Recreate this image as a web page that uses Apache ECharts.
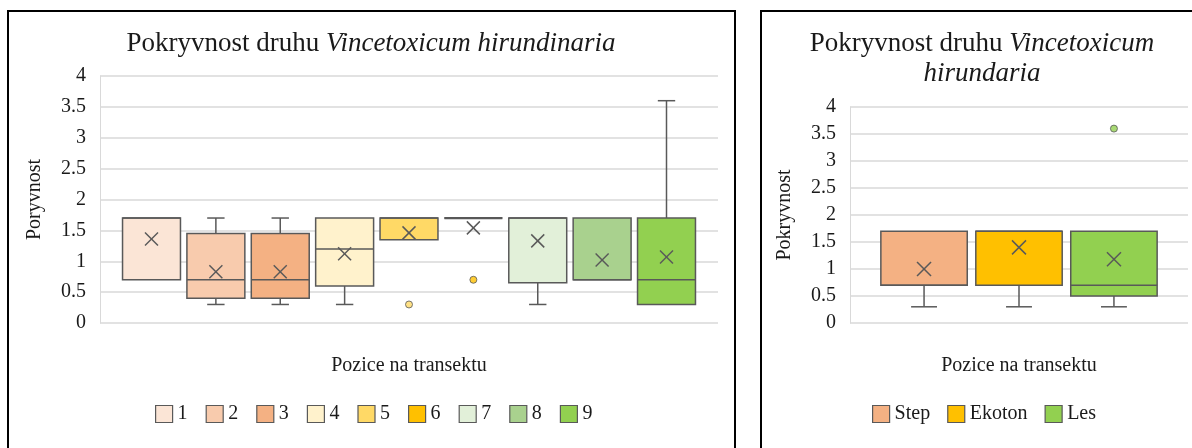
<!DOCTYPE html>
<html>
<head>
<meta charset="utf-8">
<script src="https://cdn.jsdelivr.net/npm/echarts@6/dist/echarts.min.js"></script>
<style>
html,body{margin:0;padding:0;background:#fff;}
#chart{width:1192px;height:448px;}
</style>
</head>
<body>
<div id="chart"></div>
<script>
// ---- Left chart: positions 1..9 ----
const leftCategories = ['1', '2', '3', '4', '5', '6', '7', '8', '9'];
const leftMin    = [0.7, 0.3, 0.3, 0.3, 1.35, 1.7, 0.3, 0.7, 0.3];
const leftQ1     = [0.7, 0.4, 0.4, 0.6, 1.35, 1.7, 0.65, 0.7, 0.3];
const leftMedian = [1.7, 0.7, 0.7, 1.2, 1.7, 1.7, 1.7, 0.7, 0.7];
const leftQ3     = [1.7, 1.45, 1.45, 1.7, 1.7, 1.7, 1.7, 1.7, 1.7];
const leftMax    = [1.7, 1.7, 1.7, 1.7, 1.7, 1.7, 1.7, 1.7, 3.6];
const leftMean   = [1.36, 0.83, 0.83, 1.12, 1.46, 1.54, 1.33, 1.02, 1.07];
const leftOutlierIndex = [4, 5];
const leftOutlierValue = [0.3, 0.7];
const leftColors = ['#FBE5D6', '#F8CBAD', '#F4B183', '#FFF2CC', '#FFD966', '#FFC000', '#E2F0D9', '#A9D18E', '#92D050'];

// ---- Right chart: Step / Ekoton / Les ----
const rightCategories = ['Step', 'Ekoton', 'Les'];
const rightMin    = [0.3, 0.3, 0.3];
const rightQ1     = [0.7, 0.7, 0.5];
const rightMedian = [0.7, 1.7, 0.7];
const rightQ3     = [1.7, 1.7, 1.7];
const rightMax    = [1.7, 1.7, 1.7];
const rightMean   = [1.0, 1.4, 1.18];
const rightOutlierIndex = [2];
const rightOutlierValue = [3.6];
const rightColors = ['#F4B183', '#FFC000', '#92D050'];

const yTicks = [0, 0.5, 1, 1.5, 2, 2.5, 3, 3.5, 4];

const FONT = '"Liberation Serif", "Times New Roman", serif';
const TXT = '#1a1a1a';
const STROKE = '#595959';

function makeRender(boxRatio, capRatio, xHalf) {
  return function (params, api) {
    const x = api.value(0);
    const pMin = api.coord([x, api.value(1)]);
    const pQ1 = api.coord([x, api.value(2)]);
    const pMed = api.coord([x, api.value(3)]);
    const pQ3 = api.coord([x, api.value(4)]);
    const pMax = api.coord([x, api.value(5)]);
    const pMean = api.coord([x, api.value(6)]);
    const bw = api.size([boxRatio, 0])[0];
    const cw = bw * capRatio;
    const cx = pQ1[0];
    const color = api.visual('color');
    const ls = { stroke: STROKE, lineWidth: 1.5, fill: null };
    const ch = [];
    if (pMax[1] < pQ3[1] - 0.5) {
      ch.push({ type: 'line', shape: { x1: cx, y1: pQ3[1], x2: cx, y2: pMax[1] }, style: ls });
      ch.push({ type: 'line', shape: { x1: cx - cw / 2, y1: pMax[1], x2: cx + cw / 2, y2: pMax[1] }, style: ls });
    }
    if (pMin[1] > pQ1[1] + 0.5) {
      ch.push({ type: 'line', shape: { x1: cx, y1: pQ1[1], x2: cx, y2: pMin[1] }, style: ls });
      ch.push({ type: 'line', shape: { x1: cx - cw / 2, y1: pMin[1], x2: cx + cw / 2, y2: pMin[1] }, style: ls });
    }
    const h = pQ1[1] - pQ3[1];
    ch.push({ type: 'rect', shape: { x: cx - bw / 2, y: pQ3[1], width: bw, height: h },
      style: { fill: color, stroke: STROKE, lineWidth: h < 1 ? 2.2 : 1.5 } });
    ch.push({ type: 'line', shape: { x1: cx - bw / 2, y1: pMed[1], x2: cx + bw / 2, y2: pMed[1] }, style: ls });
    ch.push({ type: 'line', shape: { x1: pMean[0] - xHalf, y1: pMean[1] - xHalf, x2: pMean[0] + xHalf, y2: pMean[1] + xHalf }, style: ls });
    ch.push({ type: 'line', shape: { x1: pMean[0] - xHalf, y1: pMean[1] + xHalf, x2: pMean[0] + xHalf, y2: pMean[1] - xHalf }, style: ls });
    return { type: 'group', children: ch };
  };
}

function boxSeries(names, mins, q1s, meds, q3s, maxs, means, colors, axisIdx, boxRatio, capRatio, xHalf) {
  return names.map(function (n, i) {
    return {
      type: 'custom',
      name: n,
      xAxisIndex: axisIdx,
      yAxisIndex: axisIdx,
      itemStyle: { color: colors[i] },
      encode: { x: 0, y: [1, 2, 3, 4, 5, 6] },
      renderItem: makeRender(boxRatio, capRatio, xHalf),
      data: [[i, mins[i], q1s[i], meds[i], q3s[i], maxs[i], means[i]]],
      z: 3
    };
  });
}

function outlierSeries(idx, vals, colors, axisIdx, size) {
  return {
    type: 'scatter',
    name: 'outliers' + axisIdx,
    xAxisIndex: axisIdx,
    yAxisIndex: axisIdx,
    symbol: 'circle',
    symbolSize: size,
    z: 4,
    data: idx.map(function (c, k) {
      return { value: [c, vals[k]], itemStyle: { color: colors[c], borderColor: STROKE, borderWidth: 1 } };
    })
  };
}

function yAxis(gridIndex, name) {
  return {
    type: 'value', gridIndex: gridIndex, min: yTicks[0], max: yTicks[yTicks.length - 1], interval: 0.5,
    name: name, nameLocation: 'middle', nameGap: 55, nameRotate: 90,
    nameTextStyle: { fontFamily: FONT, fontSize: 20, color: TXT },
    axisLine: { show: true, onZero: false, lineStyle: { color: '#D9D9D9', width: 1 } },
    axisTick: { show: false },
    axisLabel: { fontFamily: FONT, fontSize: 20, color: TXT, margin: 14 },
    splitLine: { show: true, lineStyle: { color: '#D9D9D9', width: 1.5 } }
  };
}

function xAxis(gridIndex, min, max) {
  return {
    type: 'value', gridIndex: gridIndex, min: min, max: max,
    name: 'Pozice na transektu', nameLocation: 'middle', nameGap: 33,
    nameTextStyle: { fontFamily: FONT, fontSize: 20, color: TXT },
    axisLine: { show: false, onZero: false }, axisTick: { show: false }, axisLabel: { show: false }, splitLine: { show: false }
  };
}

const chart = echarts.init(document.getElementById('chart'), null, { renderer: 'canvas' });

const titleRich = {
  n: { fontFamily: FONT, fontSize: 27, fontWeight: 'normal', color: TXT, lineHeight: 30 },
  i: { fontFamily: FONT, fontSize: 27, fontWeight: 'normal', fontStyle: 'italic', color: TXT, lineHeight: 30 }
};

const option = {
  backgroundColor: '#ffffff',
  animation: false,
  title: [
    {
      text: '{n|Pokryvnost druhu }{i|Vincetoxicum hirundinaria}',
      left: 366, top: 24, textAlign: 'center',
      textStyle: { fontWeight: 'normal', rich: titleRich }
    },
    {
      text: '{n|Pokryvnost druhu }{i|Vincetoxicum}\n{i|hirundaria}',
      left: 977, top: 24, textAlign: 'center',
      textStyle: { fontWeight: 'normal', rich: titleRich }
    }
  ],
  legend: [
    {
      data: leftCategories, left: 155, top: 404, padding: 0,
      icon: 'rect', itemWidth: 17, itemHeight: 17, itemGap: 18,
      itemStyle: { borderColor: STROKE, borderWidth: 1.2 },
      textStyle: { fontFamily: FONT, fontSize: 20, color: TXT }
    },
    {
      data: rightCategories, left: 872, top: 404, padding: 0,
      icon: 'rect', itemWidth: 17, itemHeight: 17, itemGap: 17,
      itemStyle: { borderColor: STROKE, borderWidth: 1.2 },
      textStyle: { fontFamily: FONT, fontSize: 20, color: TXT }
    }
  ],
  grid: [
    { left: 100, top: 76, width: 618, height: 247 },
    { left: 850, top: 107, width: 338, height: 216 }
  ],
  xAxis: [xAxis(0, -0.8, 8.8), xAxis(1, -0.78, 2.78)],
  yAxis: [yAxis(0, 'Poryvnost'), yAxis(1, 'Pokryvnost')],
  graphic: [
    { type: 'rect', shape: { x: 8, y: 11, width: 727, height: 460 }, style: { fill: null, stroke: '#000', lineWidth: 2 }, z: 100 },
    { type: 'rect', shape: { x: 761, y: 11, width: 460, height: 460 }, style: { fill: null, stroke: '#000', lineWidth: 2 }, z: 100 }
  ],
  series: []
    .concat(boxSeries(leftCategories, leftMin, leftQ1, leftMedian, leftQ3, leftMax, leftMean, leftColors, 0, 0.9, 0.3, 6.5))
    .concat([outlierSeries(leftOutlierIndex, leftOutlierValue, leftColors, 0, 7)])
    .concat(boxSeries(rightCategories, rightMin, rightQ1, rightMedian, rightQ3, rightMax, rightMean, rightColors, 1, 0.91, 0.3, 7))
    .concat([outlierSeries(rightOutlierIndex, rightOutlierValue, rightColors, 1, 7)])
};

chart.setOption(option);
</script>
</body>
</html>
